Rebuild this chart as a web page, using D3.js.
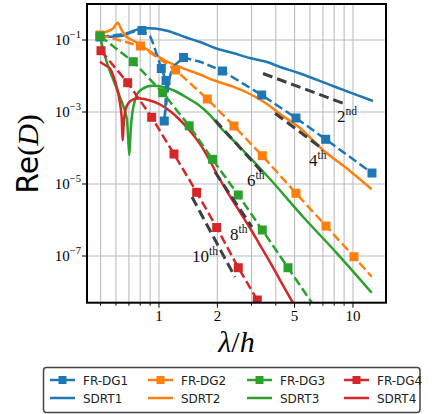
<!DOCTYPE html>
<html><head><meta charset="utf-8">
<script src="https://cdn.jsdelivr.net/npm/d3@7"></script>
<style>body{margin:0;background:#fff} svg{display:block}</style>
</head><body><svg id="c" width="432" height="414"></svg>
<script>
const colors = ["#1f77b4","#ff7f0e","#2ca02c","#d62728"];
const frNames = ["FR-DG1","FR-DG2","FR-DG3","FR-DG4"];
const sdNames = ["SDRT1","SDRT2","SDRT3","SDRT4"];
const xTickValues = [1,2,5,10];
const xTickLabels = ["1","2","5","10"];
const xGridValues = [0.5,0.6,0.7,0.8,0.9,1,2,3,4,5,6,7,8,9,10];
const yTickExponents = [-1,-3,-5,-7];

// FR-DG lines and markers
const frdg1Line = [[0.4965,0.1212],[0.5592,0.1292],[0.6293,0.1422],[0.7088,0.1616],[0.8173,0.1836],[0.8986,0.1292],[0.9313,0.08254],[0.9766,0.03831],[1.028,0.01616],[1.087,0.007499],[1.087,0.004084],[1.080,0.001565],[1.065,0.0005623],[1.096,0.002154],[1.117,0.005623],[1.149,0.01189],[1.209,0.02020],[1.338,0.03265],[1.627,0.02495],[2.125,0.01377],[3.384,0.002966],[5.084,0.0006813],[7.234,0.0001745],[12.53,0.00002020]];
const frdg1Marks = [[0.4965,0.1212],[0.8173,0.1836],[1.028,0.01616],[1.087,0.007499],[1.065,0.0005623],[1.338,0.03265],[2.125,0.01377],[3.384,0.002966],[5.084,0.0006813],[7.234,0.0001745],[12.53,0.00002020]];
const frdg2Line = [[0.4965,0.1377],[0.8028,0.06813],[1.219,0.01468],[1.774,0.002297],[2.436,0.0004084],[3.408,0.00006109],[5.084,0.000005516],[7.259,6.813e-7],[10.12,9.563e-8],[12.49,2.661e-8]];
const frdg2Marks = [[0.4965,0.1377],[0.8028,0.06813],[1.219,0.01468],[1.774,0.002297],[2.436,0.0004084],[3.408,0.00006109],[5.084,0.000005516],[7.259,6.813e-7],[10.12,9.563e-8]];
const frdg3Line = [[0.4965,0.1292],[0.7371,0.02495],[1.045,0.003436],[1.431,0.0004136],[1.887,0.00004855],[2.563,0.000004948],[3.408,5.275e-7],[4.624,4.732e-8],[6.150,4.948e-9]];
const frdg3Marks = [[0.4965,0.1292],[0.7371,0.02495],[1.045,0.003436],[1.431,0.0004136],[1.887,0.00004855],[2.563,0.000004948],[3.408,5.275e-7],[4.624,4.732e-8]];
const frdg4Line = [[0.5024,0.05043],[0.6897,0.006514],[0.9170,0.0007125],[1.195,0.00006813],[1.564,0.000005880],[1.983,6.188e-7],[2.563,4.732e-8],[3.212,5.995e-9],[3.45,2.5e-9]];
const frdg4Marks = [[0.5024,0.05043],[0.6897,0.006514],[0.9170,0.0007125],[1.195,0.00006813],[1.564,0.000005880],[1.983,6.188e-7],[2.563,4.732e-8],[3.212,5.995e-9]];

// SDRT curves
const sdrt1 = [[0.4965,0.1251],[0.5932,0.1251],[0.6677,0.1377],[0.7345,0.1778],[0.8173,0.2087],[0.9537,0.2087],[1.113,0.1778],[1.361,0.1212],[1.627,0.08799],[1.944,0.05995],[2.407,0.04355],[2.944,0.03162],[3.604,0.02448],[4.206,0.01778],[5.333,0.01173],[7.886,0.005275],[12.68,0.002021]];
const sdrt2 = [[0.4965,0.1516],[0.5395,0.1722],[0.5793,0.2087],[0.6124,0.3024],[0.6421,0.1896],[0.6760,0.1251],[0.7345,0.09685],[0.9095,0.04642],[1.100,0.02528],[1.330,0.01637],[1.627,0.01101],[1.898,0.007743],[2.407,0.005045],[2.944,0.003162],[3.604,0.001668],[4.206,0.0008799],[5.333,0.0003594],[7.004,0.00008799],[9.650,0.00002297],[12.49,0.000007125]];
const sdrt3 = [[0.4965,0.1235],[0.5163,0.05275],[0.5477,0.01812],[0.5932,0.005995],[0.6293,0.002610],[0.6599,0.001292],[0.6817,0.0006813],[0.6921,0.0002297],[0.7029,0.00006390],[0.7130,0.0002297],[0.7235,0.0006813],[0.7432,0.001668],[0.7819,0.003481],[0.8776,0.005208],[0.9881,0.005275],[1.100,0.004642],[1.209,0.003831],[1.361,0.002695],[1.589,0.001616],[1.833,0.0008254],[2.063,0.0003831],[2.615,0.0001066],[3.734,0.00001377],[5.526,0.000001235],[8.270,1.189e-7],[12.49,9.563e-9]];
const sdrt4 = [[0.4965,0.02495],[0.5267,0.02020],[0.5592,0.01616],[0.5861,0.008799],[0.6073,0.004642],[0.6256,0.002154],[0.6407,0.0008254],[0.6499,0.0001616],[0.6615,0.0006813],[0.6760,0.001292],[0.6962,0.001778],[0.7371,0.002254],[0.7981,0.002371],[0.8986,0.002087],[1.012,0.001616],[1.139,0.001066],[1.283,0.0005995],[1.445,0.0002966],[1.627,0.0001292],[1.833,0.00004354],[2.014,0.00001668],[2.269,0.000005623],[2.615,0.000001668],[2.944,5.995e-7],[3.316,2.020e-7],[3.734,6.813e-8],[4.206,2.154e-8],[4.849,5.623e-9],[5.333,2.448e-9]];

// reference slopes
const refLines = [
  [[3.437,0.01173],[9.095,0.001668]],
  [[3.963,0.0009203],[6.897,0.00009810]],
  [[1.944,0.0005995],[3.396,0.00002154]],
  [[1.944,0.00002154],[3.015,6.388e-7]],
  [[1.480,0.000004354],[2.465,2.610e-8]]
];
const refLabels = [["2","nd",8.27,0.000527],["4","th",5.932,3.162e-5],["6","th",2.842,8.799e-6],["8","th",2.323,2.783e-7],["10","th",1.480,6.813e-8]];

const W=432,H=414, L=87, R=386, T=4, B=302.7;
const svg = d3.select("#c");
const x = d3.scaleLog().domain([0.4255,14.80]).range([L,R]);
const y = d3.scaleLog().domain([5.05e-9,1]).range([B,T]);

const serif = "'Liberation Serif','DejaVu Serif',serif";
const sans = "'DejaVu Sans',sans-serif";

svg.append("defs").append("clipPath").attr("id","clip").append("rect")
  .attr("x",L).attr("y",T).attr("width",R-L).attr("height",B-T);

// grid
const grid = svg.append("g").attr("stroke","#b9bdc4").attr("stroke-width",1.1);
grid.selectAll(".vx").data(xGridValues).join("line")
  .attr("x1",d=>x(d)).attr("x2",d=>x(d)).attr("y1",T).attr("y2",B);
grid.selectAll(".hy").data(yTickExponents).join("line")
  .attr("x1",L).attr("x2",R).attr("y1",d=>y(Math.pow(10,d))).attr("y2",d=>y(Math.pow(10,d)));

const plot = svg.append("g").attr("clip-path","url(#clip)");
const lineLin = d3.line().x(d=>x(d[0])).y(d=>y(d[1]));
const lineSmooth = d3.line().x(d=>x(d[0])).y(d=>y(d[1])).curve(d3.curveCatmullRom.alpha(0.5));

const frLines = [frdg1Line,frdg2Line,frdg3Line,frdg4Line];
const frMarks = [frdg1Marks,frdg2Marks,frdg3Marks,frdg4Marks];
const sdLines = [sdrt1,sdrt2,sdrt3,sdrt4];

sdLines.forEach((s,i)=>{
  plot.append("path").attr("d",lineSmooth(s)).attr("fill","none")
    .attr("stroke",colors[i]).attr("stroke-width",2.5).attr("stroke-linejoin","round");
});
frLines.forEach((s,i)=>{
  plot.append("path").attr("d",lineLin(s)).attr("fill","none")
    .attr("stroke",colors[i]).attr("stroke-width",2.5).attr("stroke-dasharray","9,4");
});
frMarks.forEach((m,i)=>{
  plot.selectAll(null).data(m).join("rect")
    .attr("x",d=>x(d[0])-4.5).attr("y",d=>y(d[1])-4.5).attr("width",9).attr("height",9)
    .attr("fill",colors[i]);
});
refLines.forEach(s=>{
  plot.append("path").attr("d",lineLin(s)).attr("fill","none")
    .attr("stroke","#3f3f3f").attr("stroke-width",3).attr("stroke-dasharray","10,5");
});
refLabels.forEach(l=>{
  const t = svg.append("text").attr("x",x(l[2])).attr("y",y(l[3]))
    .attr("font-family",serif).attr("font-size",17).attr("fill","#111");
  t.append("tspan").text(l[0]);
  t.append("tspan").attr("font-size",11.5).attr("dy",-7).text(l[1]);
});

// axes ticks
const ax = svg.append("g");
xGridValues.forEach(v=>{
  const major = xTickValues.includes(v);
  ax.append("line").attr("x1",x(v)).attr("x2",x(v)).attr("y1",B).attr("y2",B+(major?5:3))
    .attr("stroke","#000").attr("stroke-width",1);
});
xTickValues.forEach((v,i)=>{
  ax.append("text").attr("x",x(v)).attr("y",321).attr("text-anchor","middle")
    .attr("font-family",serif).attr("font-size",15).text(xTickLabels[i]);
});
yTickExponents.forEach(e=>{
  const yy = y(Math.pow(10,e));
  ax.append("line").attr("x1",L-5).attr("x2",L).attr("y1",yy).attr("y2",yy).attr("stroke","#000");
  const t = ax.append("text").attr("x",81).attr("y",yy+5).attr("text-anchor","end")
    .attr("font-family",serif).attr("font-size",15);
  t.append("tspan").text("10");
  t.append("tspan").attr("font-size",10.5).attr("dy",-7).text("\u2212"+Math.abs(e));
});
svg.append("rect").attr("x",L).attr("y",T).attr("width",R-L).attr("height",B-T)
  .attr("fill","none").attr("stroke","#000").attr("stroke-width",2);

// axis labels
const yl = svg.append("text").attr("transform","translate(38,154) rotate(-90)")
  .attr("text-anchor","middle").attr("font-size",30);
yl.append("tspan").attr("font-family",sans).text("Re");
yl.append("tspan").attr("font-family",serif).text("(");
yl.append("tspan").attr("font-family",serif).attr("font-style","italic").text("D");
yl.append("tspan").attr("font-family",serif).text(")");
const xl = svg.append("text").attr("x",(L+R)/2).attr("y",352).attr("text-anchor","middle")
  .attr("font-size",30).attr("font-family",serif);
xl.append("tspan").attr("font-style","italic").text("\u03bb");
xl.append("tspan").text("/");
xl.append("tspan").attr("font-style","italic").text("h");

// legend
const lg = svg.append("g");
lg.append("rect").attr("x",43.5).attr("y",367.5).attr("width",376.5).attr("height",45)
  .attr("rx",3).attr("fill","#fff").attr("stroke","#444").attr("stroke-width",1.5);
const colX = [50,148,247,344];
[0,1].forEach(r=>{
  const yy = r===0?380:398;
  colX.forEach((cx,i)=>{
    lg.append("line").attr("x1",cx).attr("x2",cx+25).attr("y1",yy).attr("y2",yy)
      .attr("stroke",colors[i]).attr("stroke-width",2.5);
    if(r===0) lg.append("rect").attr("x",cx+12.5-4).attr("y",yy-4).attr("width",8).attr("height",8).attr("fill",colors[i]);
    lg.append("text").attr("x",cx+33).attr("y",yy+4.5).attr("font-family",sans).attr("font-size",12)
      .attr("fill","#222").text(r===0?frNames[i]:sdNames[i]);
  });
});
</script></body></html>
